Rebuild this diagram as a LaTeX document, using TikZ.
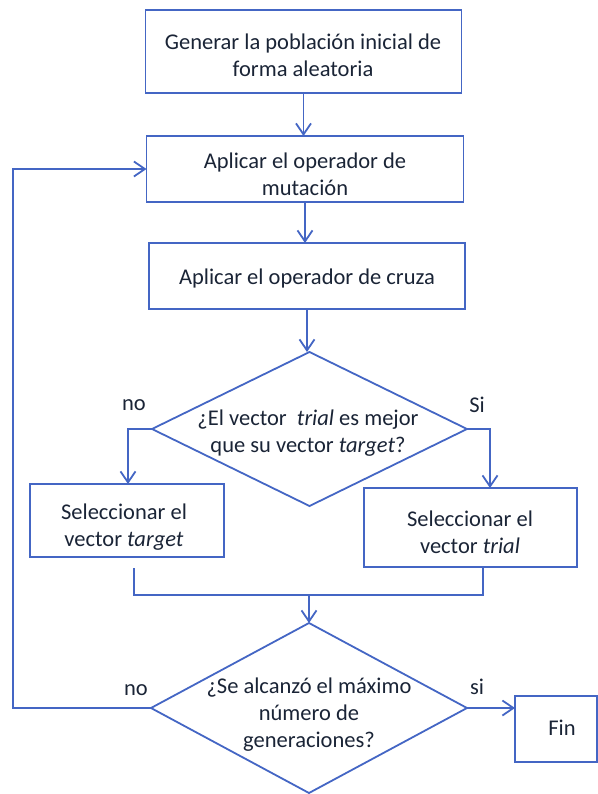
\documentclass[tikz,border=0pt]{standalone}
\usepackage{fontspec}
\setmainfont{Carlito}
\usetikzlibrary{shapes.geometric,arrows.meta}
\definecolor{lineblue}{HTML}{4466C4}
\definecolor{txtcol}{HTML}{1A2436}
\begin{document}
\begin{tikzpicture}[x=1pt,y=-1pt,
  every node/.style={text=txtcol,font=\fontsize{22.5}{27}\selectfont},
  boxnode/.style={draw=lineblue,line width=1.8pt,rectangle,inner sep=0pt,outer sep=0pt},
  dianode/.style={draw=lineblue,line width=1.8pt,diamond,inner sep=0pt,outer sep=0pt},
  txt/.style={align=center,inner sep=0pt},
  conn/.style={draw=lineblue,line width=1.8pt},
  arr/.style={conn,-{Straight Barb[length=11pt,width=15pt]}}
]
\useasboundingbox (0,0) rectangle (597,794);
% boxes
\node[boxnode,minimum width=316pt,minimum height=83pt] (b1) at (303.5,51.5) {};
\node[txt] (b1t) at (303,55) {Generar la población inicial de\\forma aleatoria};
\node[boxnode,minimum width=317pt,minimum height=66pt] (b2) at (305,169) {};
\node[txt] (b2t) at (305,174) {Aplicar el operador de\\mutación};
\node[boxnode,minimum width=316pt,minimum height=66pt] (b3) at (307,276) {};
\node[txt] (b3t) at (307,279) {Aplicar el operador de cruza};
% decision 1
\node[dianode,minimum width=315pt,minimum height=154pt] (d1) at (309.5,429) {};
\node[txt] (d1t) at (308,433) {¿El vector\ \ \textit{trial} es mejor\\que su vector \textit{target}?};
\node (no1) at (134,405) {no};
\node (si1) at (477,405) {Si};
% selection boxes
\node[boxnode,minimum width=194pt,minimum height=73pt] (lb) at (127,520.5) {};
\node[txt] (lbt) at (124,527) {Seleccionar el\\vector \textit{target}};
\node[boxnode,minimum width=213pt,minimum height=79pt] (rb) at (470.5,527.5) {};
\node[txt] (rbt) at (470,532) {Seleccionar el\\vector \textit{trial}};
% decision 2
\node[dianode,minimum width=316pt,minimum height=170pt] (d2) at (309,708) {};
\node[txt] (d2t) at (309,715) {¿Se alcanzó el máximo\\número de\\generaciones?};
\node (no2) at (136,690) {no};
\node (si2) at (477,687) {si};
% end
\node[boxnode,minimum width=82pt,minimum height=66pt] (fin) at (556,729) {};
\node[txt] (fint) at (562,728) {Fin};
% coordinates
\coordinate (rbin) at (490,488);
\coordinate (lbin) at (128,484);
\coordinate (lbout) at (134,568);
\coordinate (rbout) at (483,567);
\coordinate (mergeL) at (134,595);
\coordinate (mergeR) at (483,595);
\coordinate (mergeC) at (309,595);
\coordinate (lp) at (13,169);
% connectors
\draw[arr] (b1.south) -- (b1.south |- b2.north);
\draw[arr] (b2.south) -- (b2.south |- b3.north);
\draw[arr] (b3.south) -- (b3.south |- d1.north);
\draw[arr] (d1.west) -| (lbin);
\draw[arr] (d1.east) -| (rbin);
\draw[conn] (lbout) -- (mergeL) -- (mergeR) -- (rbout);
\draw[arr] (mergeC) -- (d2.north);
\draw[arr] (d2.west) -| (lp) -- (b2.west);
\draw[arr] (d2.east) -- (d2.east -| fin.west);
\end{tikzpicture}
\end{document}
